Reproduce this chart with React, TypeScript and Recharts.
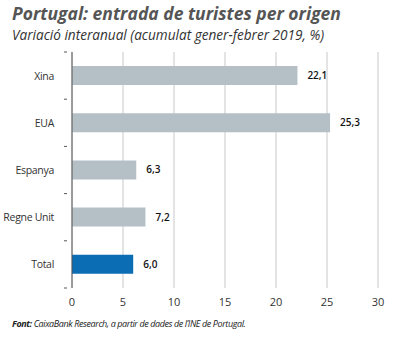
import { Bar, BarChart, CartesianGrid, Cell, LabelList, XAxis, YAxis } from "recharts";

const countries = ["Xina", "EUA", "Espanya", "Regne Unit", "Total"];
const growth = [22.1, 25.3, 6.3, 7.2, 6.0];
const xTicks = [0, 5, 10, 15, 20, 25, 30];

const data = countries.map((name, i) => ({ name, value: growth[i] }));

const W = 393;
const H = 338;
const margin = { top: 52, right: 15, left: 0, bottom: 20 };
const axisW = 72;
const xAxisH = 30;
const bandH = (H - margin.top - margin.bottom - xAxisH) / countries.length;

const fmt = (v: number) => v.toFixed(1).replace(".", ",");

function CountryTick(props: any) {
  const { x, y, payload, index } = props;
  const last = index === countries.length - 1;
  return (
    <g>
      <text x={x - 10} y={y} dy={4} textAnchor="end" fontSize={10.5} fill="#333" letterSpacing={-0.3}>
        {payload.value}
      </text>
      <line x1={x} x2={x + 3} y1={y - bandH / 2} y2={y - bandH / 2} stroke="#555" />
      {last && <line x1={x} x2={x + 3} y1={y + bandH / 2} y2={y + bandH / 2} stroke="#555" />}
    </g>
  );
}

export default function App() {
  return (
    <div
      style={{
        position: "absolute",
        left: 0,
        top: 0,
        width: W,
        height: H,
        background: "#fff",
        fontFamily: "'Open Sans', sans-serif",
      }}
    >
      <div
        style={{
          position: "absolute",
          left: 12,
          top: 1,
          fontSize: 17.5,
          fontWeight: 700,
          fontStyle: "italic",
          color: "#555",
          whiteSpace: "nowrap",
        }}
      >
        Portugal: entrada de turistes per origen
      </div>
      <div
        style={{
          position: "absolute",
          left: 12,
          top: 25,
          fontSize: 13.6,
          fontStyle: "italic",
          color: "#333",
          whiteSpace: "nowrap",
        }}
      >
        Variació interanual (acumulat gener-febrer 2019, %)
      </div>
      <BarChart width={W} height={H} data={data} layout="vertical" margin={margin}>
        <CartesianGrid horizontal={false} stroke="#c8c8c8" />
        <XAxis
          type="number"
          domain={[0, 30]}
          ticks={xTicks}
          axisLine={false}
          tickLine={false}
          height={xAxisH}
          tick={{ fontSize: 11, fill: "#333", dy: 2 }}
          interval={0}
        />
        <YAxis
          type="category"
          dataKey="name"
          width={axisW}
          axisLine={{ stroke: "#555" }}
          tickLine={false}
          tick={<CountryTick />}
          interval={0}
        />
        <Bar dataKey="value" barSize={19} isAnimationActive={false}>
          {data.map((d) => (
            <Cell key={d.name} fill={d.name === "Total" ? "#0b6db4" : "#b4c0c5"} />
          ))}
          <LabelList
            dataKey="value"
            position="right"
            offset={10}
            formatter={(v: any) => fmt(Number(v))}
            style={{ fontSize: 10, fill: "#111", fontWeight: 600 }}
          />
        </Bar>
      </BarChart>
      <div
        style={{
          position: "absolute",
          left: 12,
          top: 317,
          fontSize: 9,
          fontStyle: "italic",
          color: "#222",
          whiteSpace: "nowrap",
          letterSpacing: -0.4,
        }}
      >
        <b>Font:</b> CaixaBank Research, a partir de dades de l’INE de Portugal.
      </div>
    </div>
  );
}
